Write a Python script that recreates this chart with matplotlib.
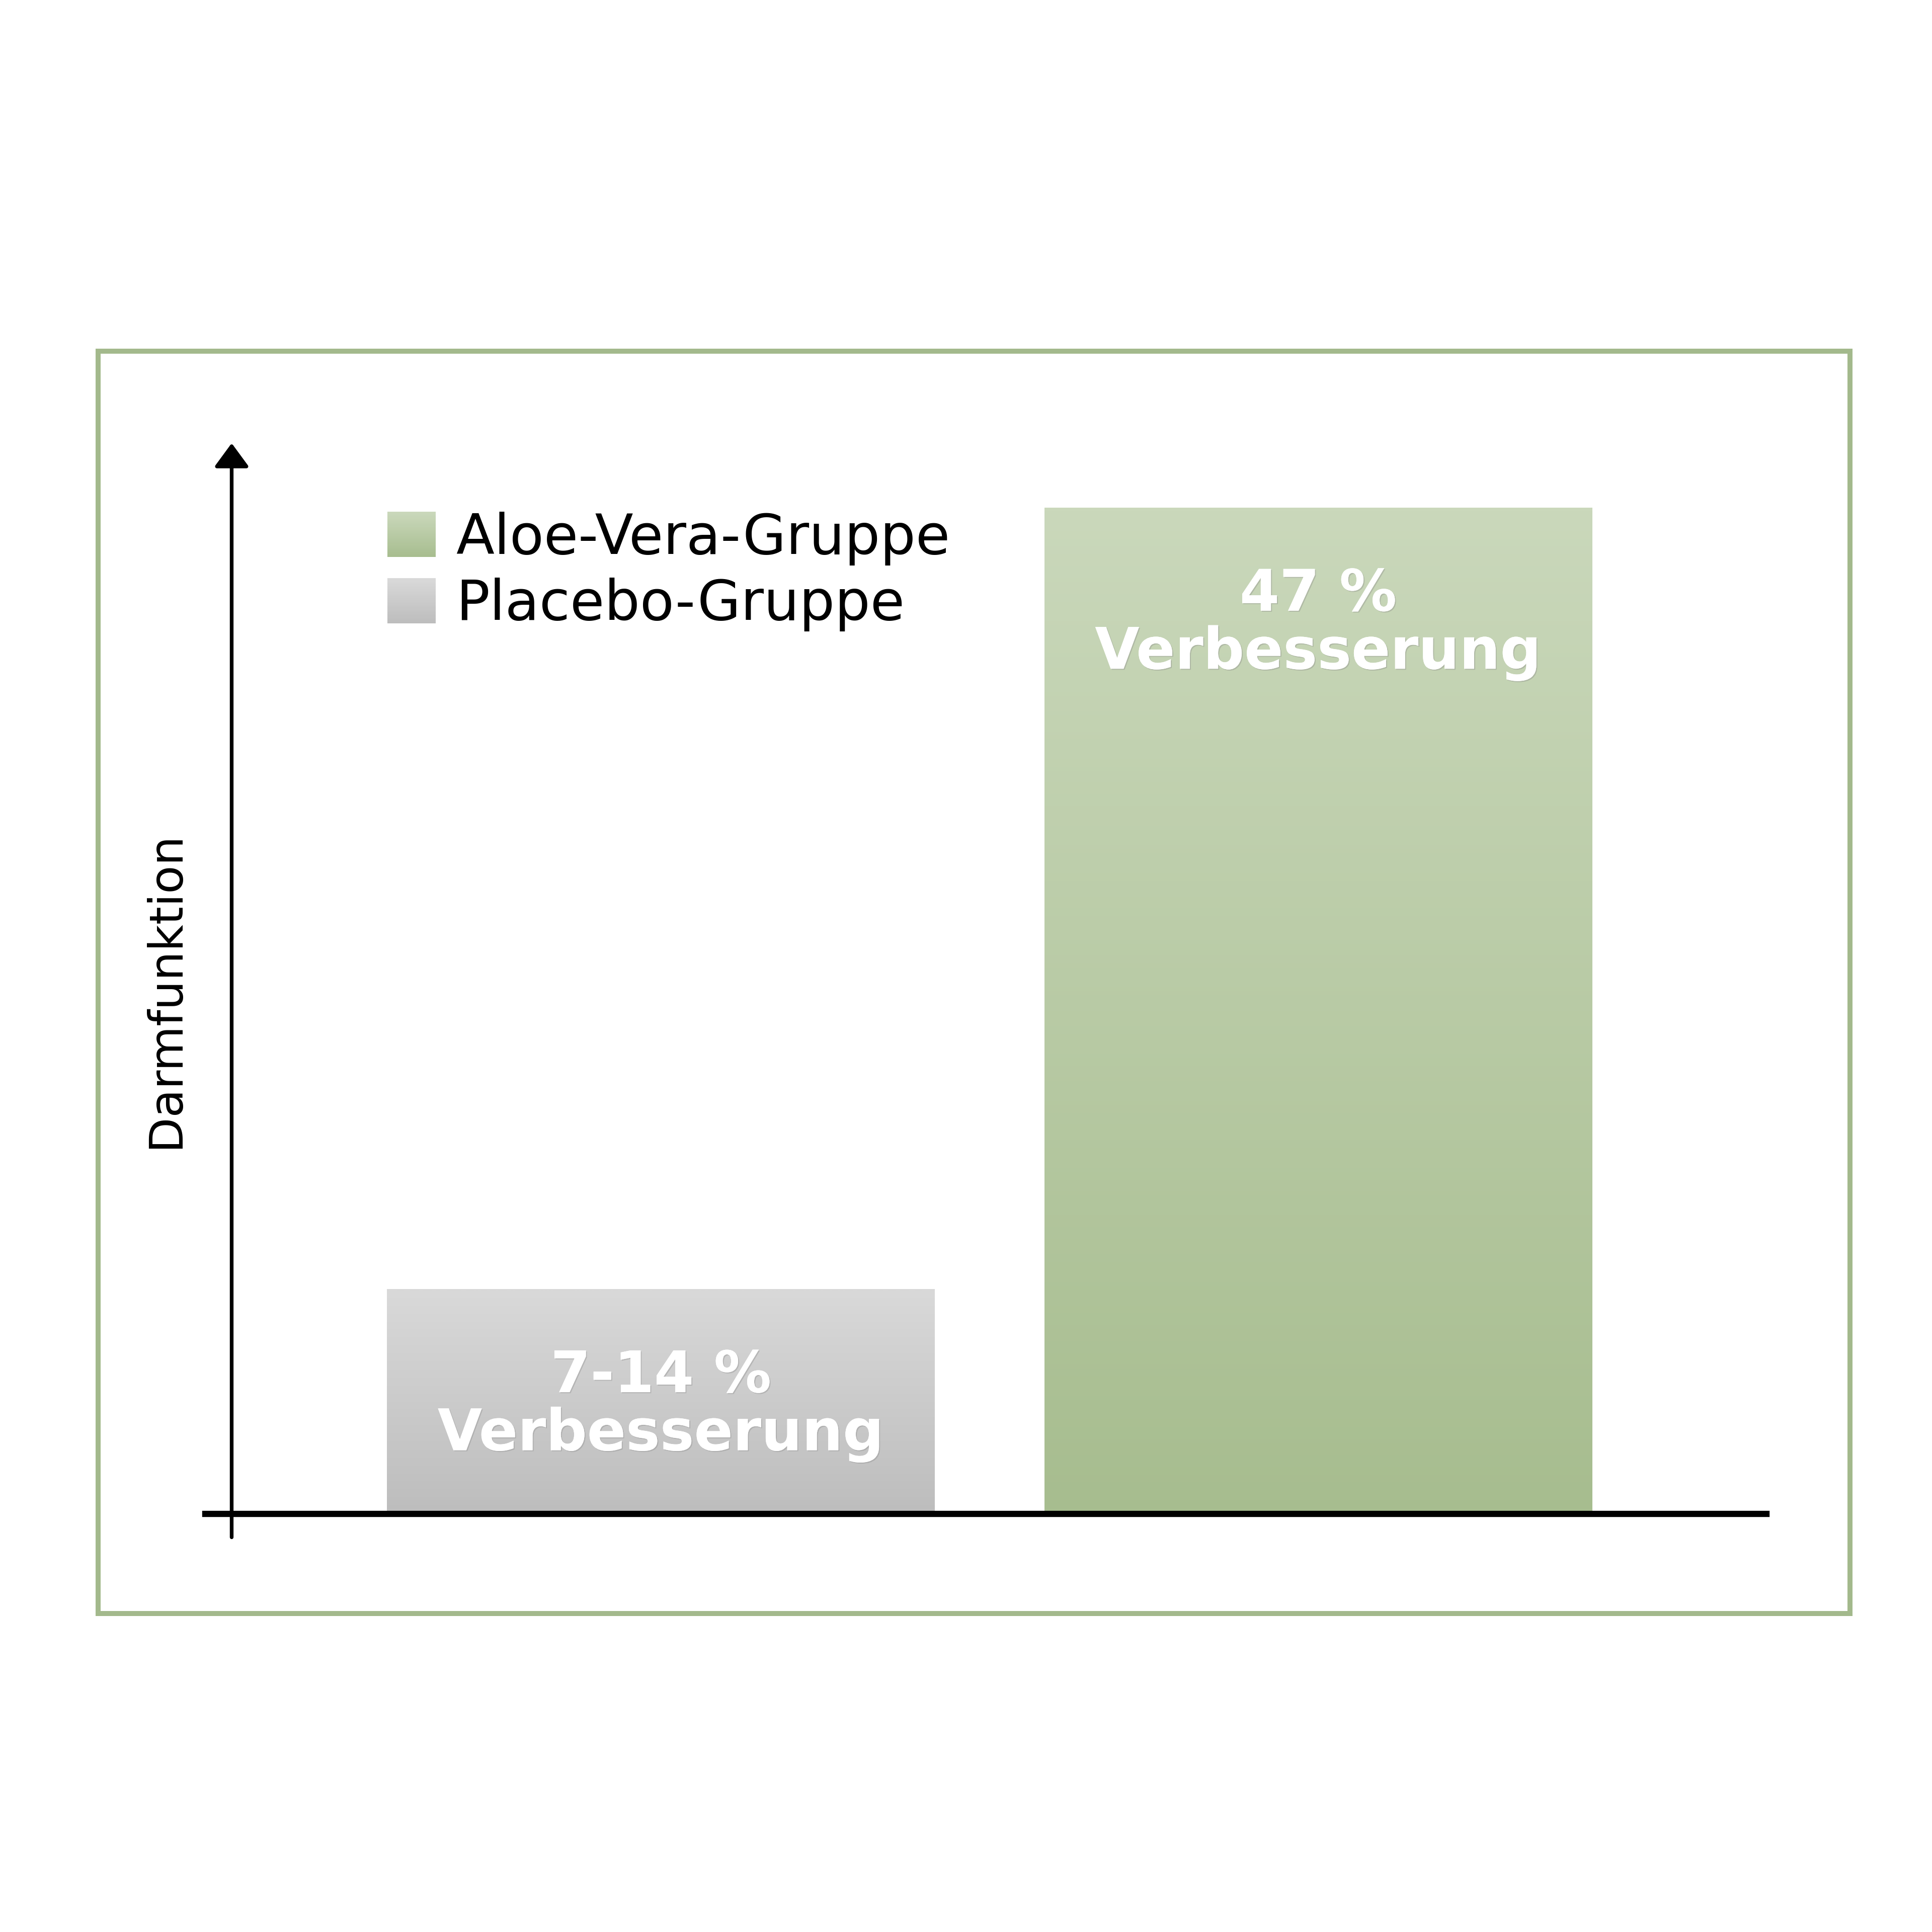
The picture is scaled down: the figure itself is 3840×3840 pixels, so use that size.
import numpy as np
import matplotlib
matplotlib.use("Agg")
import matplotlib.pyplot as plt
from matplotlib.colors import LinearSegmentedColormap
from matplotlib.patches import Patch, Rectangle
from matplotlib.legend_handler import HandlerBase
import matplotlib.patheffects as pe

# data
groups = ['Placebo-Gruppe', 'Aloe-Vera-Gruppe']
improvement = [10.5, 47]          # placebo: 7-14 % -> midpoint
bar_labels = ['7-14 %\nVerbesserung', '47 %\nVerbesserung']
legend_order = [1, 0]             # Aloe first in legend

# colours: (top, bottom) of each gradient
grad_colors = [('#D9D9D9', '#BDBDBD'), ('#CAD8BB', '#A7BD8F')]
frame_color = '#A3B98C'


class GradientHandler(HandlerBase):
    def __init__(self, top, bottom, n=40):
        super().__init__()
        self.cmap = LinearSegmentedColormap.from_list('g', [bottom, top])
        self.n = n

    def create_artists(self, legend, orig_handle, xdescent, ydescent,
                       width, height, fontsize, trans):
        arts = []
        step = height / self.n
        for i in range(self.n):
            c = self.cmap(i / (self.n - 1))
            r = Rectangle((-xdescent, -ydescent + i * step), width, step * 1.1,
                          facecolor=c, edgecolor='none', transform=trans)
            arts.append(r)
        return arts


fig = plt.figure(figsize=(38.4, 38.4), dpi=100)
fig.patch.set_facecolor('white')

# green frame round the chart
fig.patches.append(Rectangle((0.0509, 0.1649), 0.9066, 0.6534, transform=fig.transFigure,
                             fill=False, edgecolor=frame_color, linewidth=7.2))

ax = fig.add_axes([0.1063, 0.2165, 0.808, 0.5541])
ax.patch.set_alpha(0)

xpos = np.arange(len(groups))
bars = ax.bar(xpos, improvement, width=0.833, color='none', edgecolor='none')

for b, (top, bottom) in zip(bars, grad_colors):
    cmap = LinearSegmentedColormap.from_list('bar', [bottom, top])
    x0, y0 = b.get_x(), b.get_y()
    grad = np.linspace(0, 1, 256).reshape(-1, 1)
    im = ax.imshow(grad, cmap=cmap, origin='lower', aspect='auto',
                   extent=[x0, x0 + b.get_width(), y0, y0 + b.get_height()], zorder=2)
    im.set_clip_path(b)

for x, v, lab in zip(xpos, improvement, bar_labels):
    ax.text(x, v - 5.45, lab, ha='center', va='center', color='white',
            fontsize=82, fontweight='bold', linespacing=1.05, zorder=5,
            path_effects=[pe.withSimplePatchShadow(offset=(1.5, -1.5), shadow_rgbFace='#888888', alpha=0.35),
                          pe.Normal()])

ax.set_xlim(-0.693, 1.682)
ax.set_ylim(0, 50)
ax.set_xticks([])
ax.set_yticks([])
for s in ['top', 'right', 'left']:
    ax.spines[s].set_visible(False)
ax.spines['bottom'].set_linewidth(8.9)
ax.spines['bottom'].set_color('black')
ax.spines['bottom'].set_zorder(6)

# vertical axis with arrow
ax.annotate('', xy=(-0.653, 50), xytext=(-0.653, -1.1), annotation_clip=False,
            arrowprops=dict(arrowstyle='-|>,head_length=0.6,head_width=0.44', mutation_scale=48,
                            lw=5.3, color='black', shrinkA=0, shrinkB=0))

ax.set_ylabel('Darmfunktion', fontsize=66)
ax.yaxis.label.set_va('center')
ax.yaxis.set_label_coords(-0.0255, 0.4895)

handles, hmap = [], {}
for i in legend_order:
    h = Patch(label=groups[i])
    handles.append(h)
    hmap[h] = GradientHandler(*grad_colors[i])
ax.legend(handles=handles, handler_map=hmap, loc='upper left', bbox_to_anchor=(0.2004, 0.7352),
          bbox_transform=fig.transFigure, frameon=False, fontsize=80, borderpad=0, borderaxespad=0,
          handlelength=0.87, handleheight=0.87, handletextpad=0.36, labelspacing=0.22)

plt.savefig('out.png', dpi=100, facecolor='white')
